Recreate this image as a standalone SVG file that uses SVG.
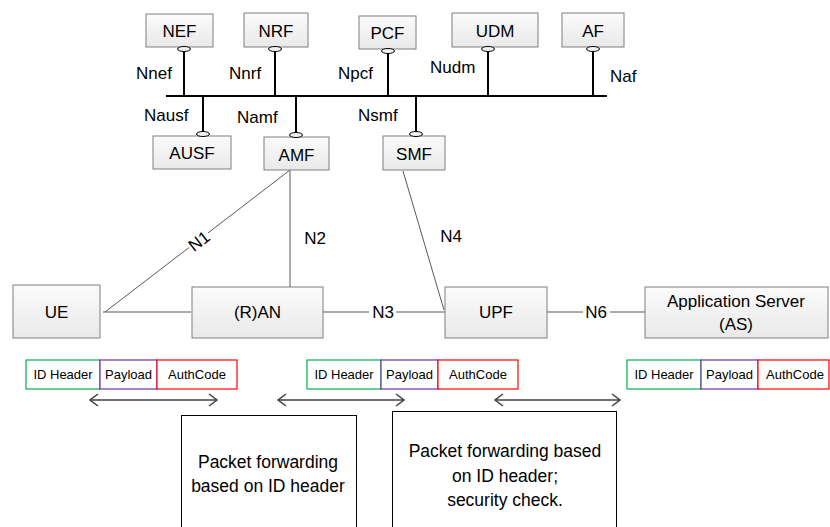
<svg xmlns="http://www.w3.org/2000/svg" width="830" height="527" viewBox="0 0 830 527">
  <style>
    text { font-family: "Liberation Sans", Arial, sans-serif; fill: #000; }
    .nf { fill: url(#boxfill); stroke: #7f7f7f; stroke-width: 1; }
    .lbl { font-size: 17px; text-anchor: middle; }
    .if { font-size: 17px; }
    .stem { stroke: #000; stroke-width: 2; fill: none; }
    .sap { fill: #f2f2f2; stroke: #000; stroke-width: 1; }
    .link { stroke: #595959; stroke-width: 1; fill: none; }
    .pk { font-size: 13px; text-anchor: middle; }
    .idh { fill: #fff; stroke: #00b050; stroke-width: 1.2; }
    .pay { fill: #fff; stroke: #7030a0; stroke-width: 1.2; }
    .auth { fill: #fff; stroke: #ff0000; stroke-width: 1.2; }
    .span { stroke: #404040; stroke-width: 1.5; fill: none; marker-start: url(#chev-s); marker-end: url(#chev-e); }
    .note { fill: #fff; stroke: #000; stroke-width: 1; }
    .nt { font-size: 17.5px; text-anchor: middle; }
  </style>
  <defs>
    <linearGradient id="boxfill" x1="0" y1="0" x2="0" y2="1">
      <stop offset="0" stop-color="#fbfbfb"/>
      <stop offset="1" stop-color="#e9e9e9"/>
    </linearGradient>
    <marker id="chev-e" markerWidth="12" markerHeight="14" refX="10" refY="7" orient="auto" markerUnits="userSpaceOnUse">
      <path d="M2,1 L10,7 L2,13" fill="none" stroke="#404040" stroke-width="1.5"/>
    </marker>
    <marker id="chev-s" markerWidth="12" markerHeight="14" refX="2" refY="7" orient="auto" markerUnits="userSpaceOnUse">
      <path d="M10,1 L2,7 L10,13" fill="none" stroke="#404040" stroke-width="1.5"/>
    </marker>
  </defs>

  <!-- service-based bus and interface stems -->
  <g id="bus">
    <line class="stem" x1="166" y1="96" x2="607" y2="96"/>
    <line class="stem" x1="184" y1="50" x2="184" y2="96"/>
    <line class="stem" x1="275" y1="50" x2="275" y2="96"/>
    <line class="stem" x1="388" y1="52" x2="388" y2="96"/>
    <line class="stem" x1="488" y1="50" x2="488" y2="96"/>
    <line class="stem" x1="593" y1="50" x2="593" y2="96"/>
    <line class="stem" x1="203" y1="96" x2="203" y2="133"/>
    <line class="stem" x1="296" y1="96" x2="296" y2="134"/>
    <line class="stem" x1="416" y1="96" x2="416" y2="133"/>
    <text class="if" x="136" y="79">Nnef</text>
    <text class="if" x="229" y="79">Nnrf</text>
    <text class="if" x="338" y="79">Npcf</text>
    <text class="if" x="430" y="73">Nudm</text>
    <text class="if" x="610" y="82">Naf</text>
    <text class="if" x="144" y="121">Nausf</text>
    <text class="if" x="237" y="123">Namf</text>
    <text class="if" x="358" y="121">Nsmf</text>
  </g>

  <!-- connectors -->
  <g id="connectors">
    <line class="link" x1="105" y1="312" x2="290" y2="170"/>
    <line class="link" x1="290" y1="170" x2="290" y2="287"/>
    <line class="link" x1="103" y1="312" x2="191" y2="312"/>
    <line class="link" x1="323" y1="312" x2="445" y2="312"/>
    <line class="link" x1="403" y1="171" x2="444" y2="310"/>
    <line class="link" x1="547" y1="312" x2="645" y2="312"/>
    <g transform="translate(199,241) rotate(-37.5)">
      <rect x="-12" y="-9" width="24" height="18" fill="#fff"/>
      <text class="lbl" x="0" y="6">N1</text>
    </g>
    <text class="lbl" x="315" y="244">N2</text>
    <rect x="369" y="303" width="27" height="18" fill="#fff"/>
    <text class="lbl" x="383" y="318">N3</text>
    <text class="lbl" x="451" y="242">N4</text>
    <rect x="583" y="303" width="27" height="18" fill="#fff"/>
    <text class="lbl" x="596" y="318">N6</text>
  </g>

  <!-- network functions -->
  <g id="nef">
    <rect class="nf" x="146" y="14" width="67" height="33"/>
    <text class="lbl" x="179.5" y="37">NEF</text>
    <ellipse class="sap" cx="184" cy="49" rx="6.5" ry="2.5"/>
  </g>
  <g id="nrf">
    <rect class="nf" x="244" y="13" width="64" height="34"/>
    <text class="lbl" x="276" y="37">NRF</text>
    <ellipse class="sap" cx="275" cy="49" rx="6.5" ry="2.5"/>
  </g>
  <g id="pcf">
    <rect class="nf" x="359" y="16" width="57" height="33"/>
    <text class="lbl" x="387.5" y="39">PCF</text>
    <ellipse class="sap" cx="388" cy="51" rx="6.5" ry="2.5"/>
  </g>
  <g id="udm">
    <rect class="nf" x="452" y="13" width="86" height="34"/>
    <text class="lbl" x="495" y="37">UDM</text>
    <ellipse class="sap" cx="488" cy="49" rx="6.5" ry="2.5"/>
  </g>
  <g id="af">
    <rect class="nf" x="562" y="13" width="62" height="34"/>
    <text class="lbl" x="593" y="37">AF</text>
    <ellipse class="sap" cx="593" cy="49" rx="6.5" ry="2.5"/>
  </g>
  <g id="ausf">
    <rect class="nf" x="153" y="136" width="78" height="33"/>
    <text class="lbl" x="192" y="159">AUSF</text>
    <ellipse class="sap" cx="203" cy="134" rx="6.5" ry="2.5"/>
  </g>
  <g id="amf">
    <rect class="nf" x="264" y="137" width="65" height="33"/>
    <text class="lbl" x="296.5" y="161">AMF</text>
    <ellipse class="sap" cx="296" cy="135" rx="6.5" ry="2.5"/>
  </g>
  <g id="smf">
    <rect class="nf" x="383" y="136" width="62" height="34"/>
    <text class="lbl" x="414" y="160">SMF</text>
    <ellipse class="sap" cx="416" cy="134" rx="6.5" ry="2.5"/>
  </g>

  <!-- user plane nodes -->
  <g id="ue">
    <rect class="nf" x="13" y="285" width="87" height="53"/>
    <text class="lbl" x="56.5" y="318">UE</text>
  </g>
  <g id="ran">
    <rect class="nf" x="192" y="287" width="131" height="51"/>
    <text class="lbl" x="257.5" y="318">(R)AN</text>
  </g>
  <g id="upf">
    <rect class="nf" x="445" y="287" width="102" height="51"/>
    <text class="lbl" x="496" y="318">UPF</text>
  </g>
  <g id="as">
    <rect class="nf" x="645" y="287" width="183" height="51"/>
    <text class="lbl" x="736" y="307">Application Server</text>
    <text class="lbl" x="736" y="330">(AS)</text>
  </g>

  <!-- packet formats -->
  <g id="packet-ue">
    <rect class="idh" x="26" y="360" width="74" height="29"/>
    <rect class="pay" x="100" y="360" width="57" height="29"/>
    <rect class="auth" x="157" y="360" width="80" height="29"/>
    <text class="pk" x="63" y="379">ID Header</text>
    <text class="pk" x="128.5" y="379">Payload</text>
    <text class="pk" x="197" y="379">AuthCode</text>
  </g>
  <g id="packet-upf">
    <rect class="idh" x="307" y="360" width="74" height="29"/>
    <rect class="pay" x="381" y="360" width="57" height="29"/>
    <rect class="auth" x="438" y="360" width="80" height="29"/>
    <text class="pk" x="344" y="379">ID Header</text>
    <text class="pk" x="409.5" y="379">Payload</text>
    <text class="pk" x="478" y="379">AuthCode</text>
  </g>
  <g id="packet-as">
    <rect class="idh" x="627" y="360" width="74" height="29"/>
    <rect class="pay" x="701" y="360" width="57" height="29"/>
    <rect class="auth" x="758" y="360" width="71" height="29"/>
    <text class="pk" x="664" y="379">ID Header</text>
    <text class="pk" x="729.5" y="379">Payload</text>
    <text class="pk" x="795" y="379">AuthCode</text>
  </g>

  <!-- hop spans -->
  <g id="spans">
    <line class="span" x1="90" y1="400" x2="217" y2="400"/>
    <line class="span" x1="278" y1="400" x2="404" y2="400"/>
    <line class="span" x1="495" y1="400" x2="620" y2="400"/>
  </g>

  <!-- processing notes -->
  <g id="note-ran">
    <rect class="note" x="181.5" y="415.5" width="175" height="120"/>
    <text class="nt" x="268" y="468">Packet forwarding</text>
    <text class="nt" x="268" y="492">based on ID header</text>
  </g>
  <g id="note-upf">
    <rect class="note" x="392.5" y="411.5" width="224" height="124"/>
    <text class="nt" x="505" y="457">Packet forwarding based</text>
    <text class="nt" x="505" y="482">on ID header;</text>
    <text class="nt" x="505" y="506">security check.</text>
  </g>
</svg>
